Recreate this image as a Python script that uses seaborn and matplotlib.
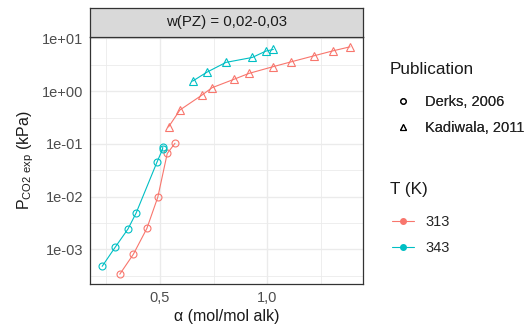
import numpy as np
import pandas as pd
import matplotlib
matplotlib.use('Agg')
import matplotlib.pyplot as plt
from matplotlib.lines import Line2D
from matplotlib.ticker import FixedLocator, NullFormatter
import seaborn as sns

# -------------------------------
# Data
# -------------------------------
# Derks, 2006 - 313 K
derks_313_x = [0.313, 0.376, 0.439, 0.490, 0.534, 0.570]
derks_313_y = [3.4e-4, 8.1e-4, 2.5e-3, 9.8e-3, 0.066, 0.103]
# Derks, 2006 - 343 K
derks_343_x = [0.231, 0.292, 0.351, 0.389, 0.486, 0.512, 0.513]
derks_343_y = [4.8e-4, 1.11e-3, 2.44e-3, 4.9e-3, 0.045, 0.079, 0.086]
# Kadiwala, 2011 - 313 K
kadi_313_x = [0.540, 0.593, 0.695, 0.742, 0.843, 0.914, 1.025, 1.111, 1.217, 1.306, 1.385]
kadi_313_y = [0.21, 0.44, 0.84, 1.16, 1.67, 2.17, 2.90, 3.60, 4.68, 5.82, 6.93]
# Kadiwala, 2011 - 343 K
kadi_343_x = [0.652, 0.717, 0.807, 0.930, 0.993, 1.028]
kadi_343_y = [1.55, 2.27, 3.51, 4.36, 5.75, 6.19]

publications = ['Derks, 2006', 'Kadiwala, 2011']
temperatures = ['313', '343']
colors = ['#F8766D', '#00BFC4']

frames = []
for pub, temp, xs, ys in [
    ('Derks, 2006', '313', derks_313_x, derks_313_y),
    ('Derks, 2006', '343', derks_343_x, derks_343_y),
    ('Kadiwala, 2011', '313', kadi_313_x, kadi_313_y),
    ('Kadiwala, 2011', '343', kadi_343_x, kadi_343_y),
]:
    frames.append(pd.DataFrame({'alpha': xs, 'p': ys, 'Publication': pub, 'T': temp}))
df = pd.concat(frames, ignore_index=True)

# -------------------------------
# Plot
# -------------------------------
sns.set_style('white')
plt.rcParams['font.family'] = ['Liberation Sans', 'DejaVu Sans']
plt.rcParams['mathtext.default'] = 'regular'

fig = plt.figure(figsize=(5.29, 3.36), dpi=100)
ax = fig.add_axes([0.170, 0.154, 0.5156, 0.737])

sns.lineplot(data=df, x='alpha', y='p', hue='T', style='Publication',
             hue_order=temperatures, palette=colors, style_order=publications,
             markers=['o', '^'], dashes=False, estimator=None, sort=True,
             markerfacecolor='none', markeredgewidth=0.8, markersize=5,
             linewidth=0.8, legend=False, ax=ax)
# open markers take the line colour, triangles a bit bigger
for line in ax.get_lines():
    line.set_markeredgecolor(line.get_color())
    if line.get_marker() == '^':
        line.set_markersize(6)

ax.set_yscale('log')
ax.set_xlim(0.174, 1.444)
ax.set_ylim(10 ** -3.659, 10 ** 1.034)

ax.set_yticks([1e-3, 1e-2, 1e-1, 1e0, 1e1])
ax.set_yticklabels(['1e-03', '1e-02', '1e-01', '1e+00', '1e+01'])
ax.yaxis.set_minor_locator(FixedLocator(10 ** np.arange(-3.5, 1.0, 1.0)))
ax.yaxis.set_minor_formatter(NullFormatter())
ax.set_xticks([0.5, 1.0])
ax.set_xticklabels(['0,5', '1,0'])
ax.xaxis.set_minor_locator(FixedLocator([0.25, 0.75, 1.25]))

ax.grid(True, which='major', color='#EBEBEB', linewidth=1.0)
ax.grid(True, which='minor', color='#EBEBEB', linewidth=0.6)
ax.set_axisbelow(True)
ax.tick_params(which='major', length=3, width=0.8, color='#333333',
               labelsize=10.5, labelcolor='#4D4D4D', pad=2)
ax.tick_params(which='minor', length=0)
for s in ax.spines.values():
    s.set_color('#333333')
    s.set_linewidth(0.9)

ax.set_xlabel('α (mol/mol alk)', fontsize=11.5, color='#1A1A1A', labelpad=3)
ax.set_ylabel(r'P$_{CO2\ exp}$ (kPa)', fontsize=11.5, color='#1A1A1A', labelpad=4)

# facet strip
strip = fig.add_axes([0.170, 0.891, 0.5156, 0.085])
strip.set_facecolor('#D9D9D9')
strip.set_xticks([])
strip.set_yticks([])
for s in strip.spines.values():
    s.set_color('#333333')
    s.set_linewidth(0.9)
strip.text(0.5, 0.5, 'w(PZ) = 0,02-0,03', ha='center', va='center',
           fontsize=10.8, color='#1A1A1A', transform=strip.transAxes)

# legends (titles drawn as text for exact spacing)
leg_kw = dict(loc='upper left', frameon=False, fontsize=10.5,
              handlelength=1.5, handletextpad=0.8, labelspacing=0.85,
              borderpad=0, borderaxespad=0)
fig.text(0.737, 0.792, 'Publication', fontsize=12.3, color='#1A1A1A', va='center')
pub_handles = [Line2D([], [], marker=m, color='black', linestyle='none',
                      markerfacecolor='none', markersize=4, markeredgewidth=0.8)
               for m in ['o', '^']]
leg1 = fig.legend(pub_handles, publications, bbox_to_anchor=(0.7405, 0.717), **leg_kw)

fig.text(0.737, 0.435, 'T (K)', fontsize=12.3, color='#1A1A1A', va='center')
t_handles = [Line2D([], [], marker='o', color=c, linewidth=0.8, markersize=4)
             for c in colors]
leg2 = fig.legend(t_handles, temperatures, bbox_to_anchor=(0.7405, 0.360), **leg_kw)
fig.add_artist(leg1)

fig.savefig('out.png', dpi=100)
